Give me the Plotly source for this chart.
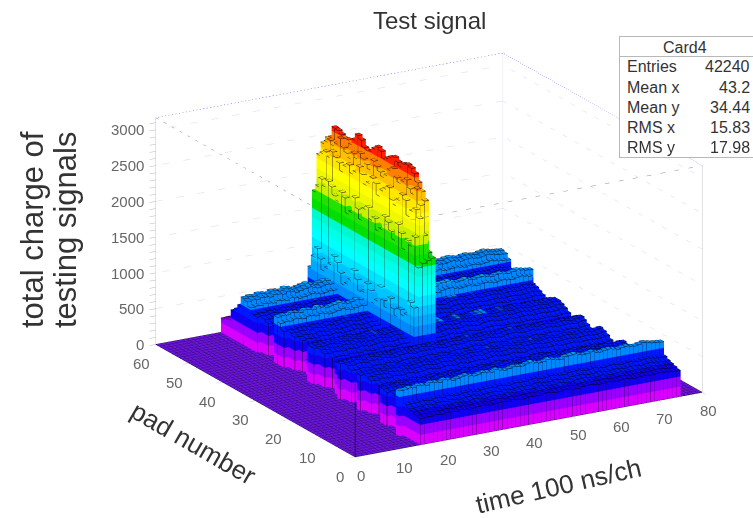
import plotly.graph_objects as go

# Values
x_ticks = list(range(0, 81, 10))
y_ticks = list(range(0, 61, 10))
z_labels = list(range(0, 3001, 500))
z_minor = list(range(0, 3101, 100))
first_time_bin = 15
# estimated charge level of each pad (ridges and troughs along pad number)
pad_level = [380, 400, 420, 440, 470, 660, 380, 410, 440, 470, 490, 510, 480, 340, 390,
             430, 470, 500, 520, 170, 390, 430, 460, 500, 520, 490, 450, 190, 400, 440,
             480, 510, 530, 530, 500, 450, 210, 410, 450, 480, 510, 530, 620, 680, 470,
             250, 420, 460, 490, 520, 530, 600, 660, 680, 540, 460, 410, 260, 240, 210]
# estimated first / one-past-last occupied time bin of each pad
pad_first = [15, 15, 15, 15, 15, 14, 17, 17, 16, 16, 15, 15, 16, 18, 18,
             17, 16, 16, 15, 16, 17, 17, 16, 16, 15, 16, 16, 17, 18, 17,
             16, 16, 15, 15, 16, 17, 17, 18, 17, 16, 16, 15, 15, 15, 16,
             17, 17, 16, 16, 15, 15, 15, 15, 15, 15, 15, 15, 15, 15, 15]
pad_last = [75, 75, 75, 75, 75, 75, 74, 73, 72, 72, 71, 71, 71, 70, 70,
            71, 71, 71, 71, 70, 71, 71, 71, 71, 71, 72, 72, 71, 71, 72,
            72, 72, 72, 72, 72, 72, 72, 72, 73, 73, 73, 73, 73, 74, 73,
            73, 73, 74, 74, 74, 74, 75, 75, 75, 75, 75, 75, 74, 74, 74]
# estimated relative level along time for the 60 bins
time_level = [0.96, 0.98, 0.97, 1.0, 0.99, 0.97, 1.01, 1.0, 0.98, 1.02, 1.0, 0.97, 0.99, 1.01, 1.03,
              1.0, 0.98, 1.0, 1.02, 1.01, 0.99, 1.03, 1.0, 0.98, 1.0, 1.02, 1.01, 1.0, 1.03, 1.05,
              1.02, 1.0, 1.01, 1.04, 1.02, 1.0, 0.99, 1.03, 1.04, 1.05, 1.02, 1.0, 1.01, 1.03, 1.0,
              0.99, 1.01, 1.02, 1.0, 0.98, 1.0, 1.01, 0.99, 0.98, 1.0, 1.02, 1.0, 0.98, 0.97, 0.96]
# the tall pulse, pads 28..59, time bins 35..39
pulse_pads_first = 28
pulse_t35 = [950, 1000, 800, 760, 820, 700, 780, 900, 740, 820, 980, 760, 700, 850, 920, 780,
             760, 900, 1000, 840, 760, 720, 860, 980, 1040, 900, 820, 760, 900, 1020, 880, 700]
pulse_t36 = [1500, 1900, 1750, 1800, 1650, 1850, 1950, 1700, 1800, 1900, 1950, 1750, 1700, 1850, 1800, 1950,
             1900, 1720, 1850, 1980, 1750, 1700, 1900, 1950, 1800, 1850, 1950, 2000, 1900, 1980, 1850, 1750]
pulse_t37 = [1550, 2150, 2250, 2200, 2100, 2300, 2350, 2250, 2150, 2200, 2350, 2300, 2250, 2150, 2300, 2350,
             2250, 2200, 2320, 2400, 2300, 2250, 2350, 2300, 2200, 2300, 2350, 2400, 2300, 2350, 2300, 2250]
pulse_t38 = [1580, 1900, 2300, 2500, 2400, 2450, 2550, 2500, 2450, 2500, 2600, 2550, 2450, 2400, 2450, 2500,
             2550, 2400, 2450, 2500, 2550, 2450, 2500, 2400, 2450, 2500, 2600, 2500, 2450, 2500, 2450, 2400]
pulse_t39 = [1600, 1650, 2350, 2450, 2550, 2650, 2700, 2720, 2700, 2640, 2680, 2720, 2690, 2650, 2620, 2700,
             2730, 2680, 2620, 2600, 2620, 2700, 2740, 2650, 2560, 2600, 2590, 2620, 2650, 2660, 2500, 2460]
band_colors = ["#D800FF", "#9A00FF", "#1000F0", "#0018FF", "#0088FF", "#00A8FF", "#00C4FF", "#00E4FF",
               "#00FFFF", "#00FFE8", "#00F8D0", "#00E000", "#20E400", "#C8F000", "#F0F800", "#FFFF00",
               "#FFE800", "#FFC000", "#FF8000", "#FF2000"]
z_top = 2750
floor_color = "#6A14DC"

pulses = [pulse_t35, pulse_t36, pulse_t37, pulse_t38, pulse_t39]
nx, ny = 80, 60
h = [[0.0] * ny for _ in range(nx)]
for i, tl in enumerate(time_level):
    for j, p in enumerate(pad_level):
        if pad_first[j] <= first_time_bin + i < pad_last[j]:
            h[first_time_bin + i][j] = p * tl
for i in range(first_time_bin - 1, first_time_bin):
    for j in range(ny):
        if pad_first[j] <= i:
            h[i][j] = pad_level[j] * time_level[0]
for c, col in enumerate(pulses):
    for k, v in enumerate(col):
        h[35 + c][pulse_pads_first + k] = v

vx, vy, vz, fi, fj, fk = [], [], [], [], [], []
def quad(pts):
    n = len(vx)
    for p in pts:
        vx.append(p[0]); vy.append(p[1]); vz.append(p[2])
    fi.extend([n, n]); fj.extend([n + 1, n + 2]); fk.extend([n + 2, n + 3])

lx, ly, lz = [], [], []
ex, ey, ez = [], [], []
def line(pts, xs=lx, ys=ly, zs=lz):
    for p in pts:
        xs.append(p[0]); ys.append(p[1]); zs.append(p[2])
    xs.append(None); ys.append(None); zs.append(None)

for i in range(nx):
    for j in range(ny):
        v = h[i][j]
        if v <= 0:
            continue
        left = h[i - 1][j] if i else 0
        front = h[i][j - 1] if j else 0
        back = h[i][j + 1] if j + 1 < ny else 0
        diag = h[i - 1][j - 1] if i and j else 0
        quad([(i, j, v), (i + 1, j, v), (i + 1, j + 1, v), (i, j + 1, v)])
        if v > left:
            quad([(i, j, left), (i, j + 1, left), (i, j + 1, v), (i, j, v)])
        if v > front:
            quad([(i, j, front), (i + 1, j, front), (i + 1, j, v), (i, j, v)])
            line([(i, j, front), (i, j, v)], ex, ey, ez)
        line([(i, j, v), (i + 1, j, v), (i + 1, j + 1, v), (i, j + 1, v), (i, j, v)])
        base = max(left, front, diag)
        if v > base:
            line([(i, j, base), (i, j, v)])
        if v > left and v > front and v >= back:
            line([(i, j, left), (i, j, v)])

n_b = len(band_colors)
scale = []
for b, col in enumerate(band_colors):
    scale.append([b / n_b, col])
    scale.append([(b + 1) / n_b, col])

flat = dict(ambient=1, diffuse=0, specular=0, roughness=1, fresnel=0)
bars = go.Mesh3d(x=vx, y=vy, z=vz, i=fi, j=fj, k=fk, intensity=vz, cmin=0, cmax=z_top,
                 colorscale=scale, showscale=False, flatshading=True, lighting=flat, hoverinfo="skip")
floor = go.Mesh3d(x=[0, nx, nx, 0], y=[0, 0, ny, ny], z=[0, 0, 0, 0], i=[0, 0], j=[1, 2], k=[2, 3],
                  color=floor_color, flatshading=True, lighting=flat, hoverinfo="skip")
outline = go.Scatter3d(x=lx, y=ly, z=lz, mode="lines", line=dict(color="black", width=1), hoverinfo="skip")
edges = go.Scatter3d(x=ex, y=ey, z=ez, mode="lines", line=dict(color="#200048", width=1), hoverinfo="skip")
gx, gy, gz = [], [], []
for i in range(nx + 1):
    gx += [i, i, None]; gy += [0, ny, None]; gz += [0, 0, None]
for j in range(ny + 1):
    gx += [0, nx, None]; gy += [j, j, None]; gz += [0, 0, None]
floorgrid = go.Scatter3d(x=gx, y=gy, z=gz, mode="lines", line=dict(color="#180830", width=1), hoverinfo="skip")

zb = 3170
def path_trace(segments, **style):
    xs, ys, zs = [], [], []
    for a, b2 in segments:
        xs += [a[0], b2[0], None]; ys += [a[1], b2[1], None]; zs += [a[2], b2[2], None]
    return go.Scatter3d(x=xs, y=ys, z=zs, mode="lines", line=style, hoverinfo="skip")

back_top = path_trace([((nx, ny, zb), (0, ny, zb)), ((nx, 0, zb), (nx, ny, zb))], color="#6868e8", width=1, dash="dot")
front_top = path_trace([((0, 0, zb), (nx, 0, zb)), ((0, ny, zb), (0, 0, zb))], color="#909090", width=1, dash="dash")
sides = path_trace([((nx, 0, 0), (nx, 0, zb)), ((0, ny, 0), (0, ny, zb))], color="#c4c4c4", width=1)
back_edge = path_trace([((nx, ny, 0), (nx, ny, zb))], color="#e6e6f6", width=1)
wall_grid = path_trace([((0, ny, z), (nx, ny, z)) for z in z_labels[1:]] + [((nx, 0, z), (nx, ny, z)) for z in z_labels[1:]],
                       color="#d8d8f4", width=1, dash="dot")
corner = path_trace([((0, 0, 0), (0, 0, 1050))], color="black", width=1)

axis = dict(showbackground=False, showgrid=False, zeroline=False, showline=False, ticks="outside", ticklen=7,
            tickcolor="#b8b8b8", title=dict(text=""), showticklabels=False, showspikes=False)

tick_font = dict(family="Liberation Sans", size=15, color="#666666")
labels = []
for v in z_labels:
    labels.append(dict(x=0, y=ny, z=v, text=str(v), showarrow=False, xanchor="right", yanchor="middle",
                       xshift=-10, yshift=0, font=tick_font))
for v in y_ticks:
    labels.append(dict(x=0, y=v, z=0, text=str(v), showarrow=False, xanchor="center", yanchor="middle",
                       xshift=-15, yshift=-19, font=tick_font))
for v in x_ticks:
    labels.append(dict(x=v, y=0, z=0, text=str(v), showarrow=False, xanchor="center", yanchor="middle",
                       xshift=6, yshift=-18, font=tick_font))

fig = go.Figure([floor, floorgrid, bars, edges, outline, wall_grid, back_top, front_top, sides, back_edge, corner])
fig.update_layout(
    width=753, height=518, showlegend=False, paper_bgcolor="white",
    margin=dict(l=0, r=0, t=0, b=0),
    scene=dict(
        domain=dict(x=[0.14, 1.0], y=[0.015, 1.0]),
        aspectmode="manual", aspectratio=dict(x=1.57, y=1.57, z=0.94),
        xaxis=dict(axis, range=[0, 80], tickvals=x_ticks),
        yaxis=dict(axis, range=[0, 60], tickvals=y_ticks),
        zaxis=dict(axis, range=[0, zb], tickvals=z_minor),
        camera=dict(projection=dict(type="orthographic"), up=dict(x=0, y=0, z=1),
                    center=dict(x=0, y=0, z=0), eye=dict(x=-0.85, y=-1.48, z=0.585)),
        annotations=labels,
    ),
)

def note(text, x, y, size, color="#333333", angle=0, xanchor="center"):
    fig.add_annotation(text=text, xref="paper", yref="paper", x=x / 753, y=1 - y / 518, showarrow=False,
                       xanchor=xanchor, yanchor="middle", textangle=angle,
                       font=dict(family="Liberation Sans", size=size, color=color))

def panel(top, bottom):
    fig.add_annotation(text="&nbsp;", xref="paper", yref="paper", x=619 / 753, y=1 - top / 518, showarrow=False,
                       xanchor="left", yanchor="top", width=150, height=bottom - top, borderpad=0,
                       bgcolor="white", bordercolor="#b8b8b8", borderwidth=1)

note("Test signal", 429, 20, 24)
note("total charge of", 32, 230, 31, angle=-90)
note("testing signals", 65, 230, 31, angle=-90)
note("pad number", 193, 443, 26, angle=30)
note("time 100 ns/ch", 558, 486, 26, angle=-13)

panel(36, 56)
panel(56, 156)
note("Card4", 685, 47, 16)
stat_names = ["Entries", "Mean x", "Mean y", "RMS x", "RMS y"]
stat_values = ["42240", "43.2", "34.44", "15.83", "17.98"]
for n, (name, val) in enumerate(zip(stat_names, stat_values)):
    note(name, 625, 67 + 20 * n, 16, xanchor="left")
    note(val, 752, 67 + 20 * n, 16, xanchor="right")

fig.write_html("out.html", post_script="document.body.style.margin='0';", config=dict(displayModeBar=False))
